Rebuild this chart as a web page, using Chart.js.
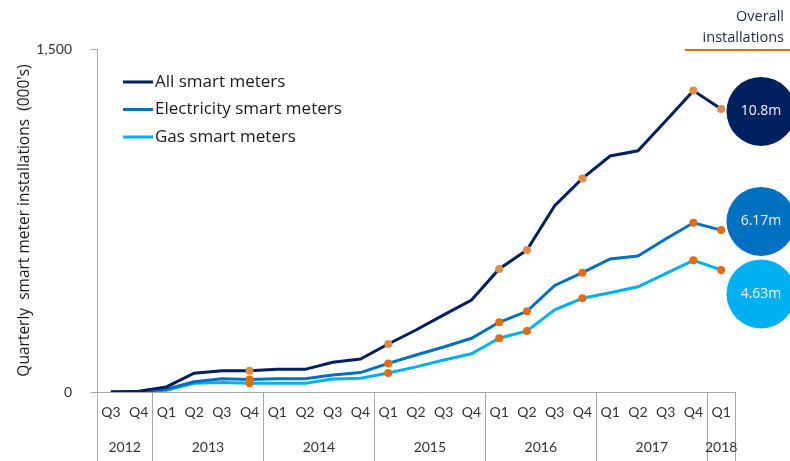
<!DOCTYPE html>
<html>
<head>
<meta charset="utf-8">
<script src="https://cdn.jsdelivr.net/npm/chart.js@4.4.0/dist/chart.umd.min.js"></script>
<style>
  html, body { margin: 0; padding: 0; background: #fff; }
</style>
</head>
<body>
<canvas id="chart" width="790" height="461"></canvas>
<script>
// Quarter labels, Q3 2012 .. Q1 2018
const quarters = ['Q3', 'Q4',
  'Q1', 'Q2', 'Q3', 'Q4',
  'Q1', 'Q2', 'Q3', 'Q4',
  'Q1', 'Q2', 'Q3', 'Q4',
  'Q1', 'Q2', 'Q3', 'Q4',
  'Q1', 'Q2', 'Q3', 'Q4',
  'Q1'];
const years = ['2012', '2013', '2014', '2015', '2016', '2017', '2018'];
const quartersPerYear = [2, 4, 4, 4, 4, 4, 1];

// Quarterly installations (000's)
const allMeters = [0, 3, 22, 82, 93, 93, 99, 99, 130, 144, 210, 271, 337, 402, 538, 621, 815, 934, 1032, 1055, 1185, 1318, 1238];
const elecMeters = [0, 1, 12, 45, 58, 55, 58, 58, 74, 85, 125, 162, 197, 235, 305, 353, 466, 522, 582, 595, 669, 740, 708];
const gasMeters = [0, 1, 8, 38, 41, 38, 38, 38, 57, 60, 83, 110, 140, 167, 235, 267, 359, 410, 434, 460, 518, 576, 534];

// quarters marked with an orange dot
const highlighted = [5, 10, 14, 15, 17, 21, 22];

// overall installations shown in the bubbles
const totals = ['10.8m', '6.17m', '4.63m'];

const seriesNames = ['All smart meters', 'Electricity smart meters', 'Gas smart meters'];
const seriesColors = ['#002060', '#0070c0', '#00b0f0'];

const FONT = "Lato, 'Open Sans', sans-serif";
const WIDE = "'Open Sans', Lato, sans-serif";

function dotRadius(values) {
    return values.map((v, i) => highlighted.includes(i) ? 4 : 0);
}

function makeSet(label, data, color, dotColor) {
    return {
        label: label,
        data: data,
        borderColor: color,
        backgroundColor: color,
        borderWidth: 3,
        tension: 0,
        pointRadius: dotRadius(data),
        pointHoverRadius: dotRadius(data),
        pointBackgroundColor: dotColor,
        pointBorderWidth: 0
    };
}

// draws legend, year row, header and bubbles
const extras = {
    id: 'extras',
    afterDraw(chart, args, opts) {
        const ctx = chart.ctx;
        const xs = chart.scales.x;
        const ys = chart.scales.y;
        const area = chart.chartArea;
        ctx.save();

        // year separators + labels
        const half = (xs.getPixelForValue(1) - xs.getPixelForValue(0)) / 2;
        ctx.strokeStyle = '#a8a8a8';
        ctx.lineWidth = 1;
        ctx.font = '14px ' + FONT;
        ctx.fillStyle = '#333';
        ctx.textAlign = 'center';
        ctx.textBaseline = 'middle';
        let start = 0;
        years.forEach((yr, i) => {
            const n = quartersPerYear[i];
            const x0 = xs.getPixelForValue(start) - half;
            const x1 = xs.getPixelForValue(start + n - 1) + half;
            ctx.beginPath();
            ctx.moveTo(Math.round(x0) + 0.5, area.bottom);
            ctx.lineTo(Math.round(x0) + 0.5, chart.height);
            ctx.stroke();
            if (i === years.length - 1) {
                ctx.beginPath();
                ctx.moveTo(Math.round(x1) + 0.5, area.bottom);
                ctx.lineTo(Math.round(x1) + 0.5, chart.height);
                ctx.stroke();
            }
            ctx.fillText(yr, (x0 + x1) / 2, area.bottom + 55);
            start += n;
        });

        // legend
        ctx.font = '17px ' + WIDE;
        ctx.textAlign = 'left';
        ctx.fillStyle = '#1a1a1a';
        chart.data.datasets.forEach((ds, i) => {
            const ly = 82 + i * 27.5;
            ctx.strokeStyle = ds.borderColor;
            ctx.lineWidth = 3;
            ctx.beginPath();
            ctx.moveTo(123, ly);
            ctx.lineTo(153, ly);
            ctx.stroke();
            ctx.fillText(ds.label, 155, ly);
        });

        // header
        ctx.font = '14.5px ' + WIDE;
        ctx.textAlign = 'right';
        ctx.fillStyle = '#1f2a44';
        ctx.fillText('Overall', 784, 17);
        ctx.fillText('installations', 784, 38);
        ctx.strokeStyle = '#e46c0a';
        ctx.lineWidth = 2;
        ctx.beginPath();
        ctx.moveTo(685, 50);
        ctx.lineTo(790, 50);
        ctx.stroke();

        // bubbles
        ctx.font = '14px ' + WIDE;
        ctx.textAlign = 'center';
        opts.bubbleAt.forEach((v, i) => {
            const cy = ys.getPixelForValue(v);
            const cx = area.right + 26;
            ctx.fillStyle = seriesColors[i];
            ctx.beginPath();
            ctx.arc(cx, cy, 34.5, 0, Math.PI * 2);
            ctx.fill();
            ctx.fillStyle = '#eef3fa';
            ctx.fillText(totals[i], cx, cy);
        });

        ctx.restore();
    }
};

new Chart(document.getElementById('chart'), {
    type: 'line',
    data: {
        labels: quarters,
        datasets: [
            makeSet(seriesNames[0], allMeters, seriesColors[0], '#e38a44'),
            makeSet(seriesNames[1], elecMeters, seriesColors[1], '#e46c0a'),
            makeSet(seriesNames[2], gasMeters, seriesColors[2], '#e46c0a')
        ]
    },
    options: {
        responsive: false,
        animation: false,
        devicePixelRatio: 1,
        layout: { padding: { left: 15, right: 55, top: 49, bottom: 0 } },
        plugins: {
            legend: { display: false },
            tooltip: { enabled: false },
            extras: { bubbleAt: [1227, 746, 429] }
        },
        scales: {
            x: {
                offset: true,
                grid: { display: false, drawTicks: false },
                border: { display: true, color: '#a8a8a8' },
                ticks: {
                    autoSkip: false,
                    maxRotation: 0,
                    padding: 12,
                    color: '#333',
                    font: { family: FONT, size: 14 }
                },
                afterFit(scale) { scale.height = 69; }
            },
            y: {
                min: 0,
                max: 1500,
                grid: { drawOnChartArea: false, drawTicks: true, tickLength: 6, color: '#a8a8a8' },
                border: { display: true, color: '#a8a8a8' },
                ticks: {
                    stepSize: 1500,
                    padding: 19,
                    color: '#333',
                    font: { family: FONT, size: 14 },
                    callback: v => v.toLocaleString('en-US')
                },
                title: {
                    display: true,
                    text: "Quarterly  smart meter installations  (000's)",
                    color: '#1a1a1a',
                    font: { family: WIDE, size: 15.5 },
                    padding: 0
                },
                afterFit(scale) { scale.width = 82; }
            }
        }
    },
    plugins: [extras]
});
</script>
</body>
</html>
